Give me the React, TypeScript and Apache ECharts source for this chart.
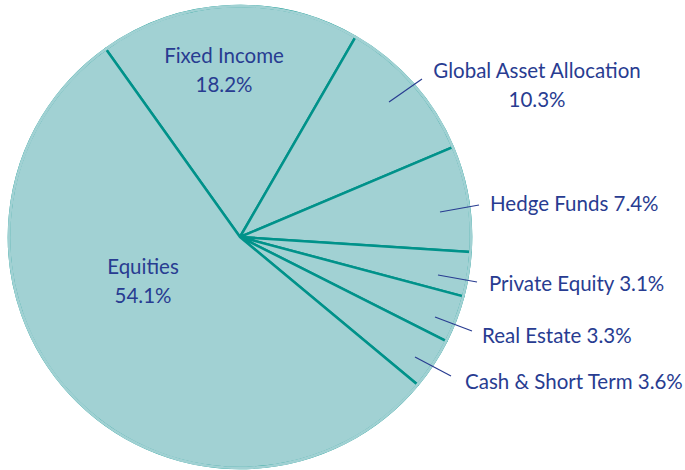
import React, { useEffect, useRef } from 'react';
import * as echarts from 'echarts';

const categories = [
  'Fixed Income',
  'Global Asset Allocation',
  'Hedge Funds',
  'Private Equity',
  'Real Estate',
  'Cash & Short Term',
  'Equities',
];
const values = [18.2, 10.3, 7.4, 3.1, 3.3, 3.6, 54.1];
const twoLine = [true, true, false, false, false, false, true];

// label anchor positions (px) and leader-line endpoints
const labelAnchors: number[][] = [
  [224, 69],
  [537, 84],
  [490, 203],
  [489, 283],
  [482, 335],
  [465, 381],
  [143, 280],
];
const leaderLines: (number[][] | null)[] = [
  null,
  [[389, 102], [422, 79]],
  [[440, 212], [479, 205]],
  [[438, 275], [477, 282]],
  [[435, 317], [472, 331]],
  [[415, 357], [451, 376]],
  null,
];

const FILL = '#a1d1d3';
const EDGE = '#00928a';
const TEXT = '#283c91';
const FONT = 'Lato';

export default function App() {
  const ref = useRef<HTMLDivElement>(null);
  useEffect(() => {
    if (!ref.current) return;
    const chart = echarts.init(ref.current, undefined, { renderer: 'svg' });
    const data = categories.map((name, i) => ({ name, value: values[i] }));
    const graphics = leaderLines
      .filter((l) => l)
      .map((l: any) => ({
        type: 'line',
        z: 100,
        silent: true,
        shape: { x1: l[0][0], y1: l[0][1], x2: l[1][0], y2: l[1][1] },
        style: { stroke: TEXT, lineWidth: 1.2 },
      }));
    chart.setOption({
      animation: false,
      backgroundColor: '#ffffff',
      graphic: graphics,
      series: [
        {
          type: 'pie',
          center: [240, 237],
          radius: 231,
          startAngle: 125.5,
          clockwise: true,
          avoidLabelOverlap: false,
          silent: true,
          itemStyle: { color: FILL, borderColor: EDGE, borderWidth: 2.5 },
          label: {
            show: true,
            position: 'inside',
            color: TEXT,
            fontFamily: FONT,
            fontSize: 20.5,
            lineHeight: 29,
            formatter: (p: any) =>
              twoLine[p.dataIndex]
                ? `${p.name}\n${p.value}%`
                : `${p.name} ${p.value}%`,
          },
          labelLine: { show: false },
          labelLayout: (p: any) => {
            const i = p.dataIndex;
            const a = labelAnchors[i];
            return {
              x: a[0],
              y: a[1],
              align: twoLine[i] ? 'center' : 'left',
              verticalAlign: 'middle',
            };
          },
          data,
        },
        {
          type: 'pie',
          center: [240, 237],
          radius: [229.6, 232.3],
          silent: true,
          label: { show: false },
          labelLine: { show: false },
          itemStyle: { color: FILL, borderWidth: 0 },
          data: [{ value: 1, name: 'edge' }],
        },
      ],
    });
    return () => chart.dispose();
  }, []);
  return (
    <div
      ref={ref}
      style={{ position: 'absolute', left: 0, top: 0, width: 685, height: 470 }}
    />
  );
}
